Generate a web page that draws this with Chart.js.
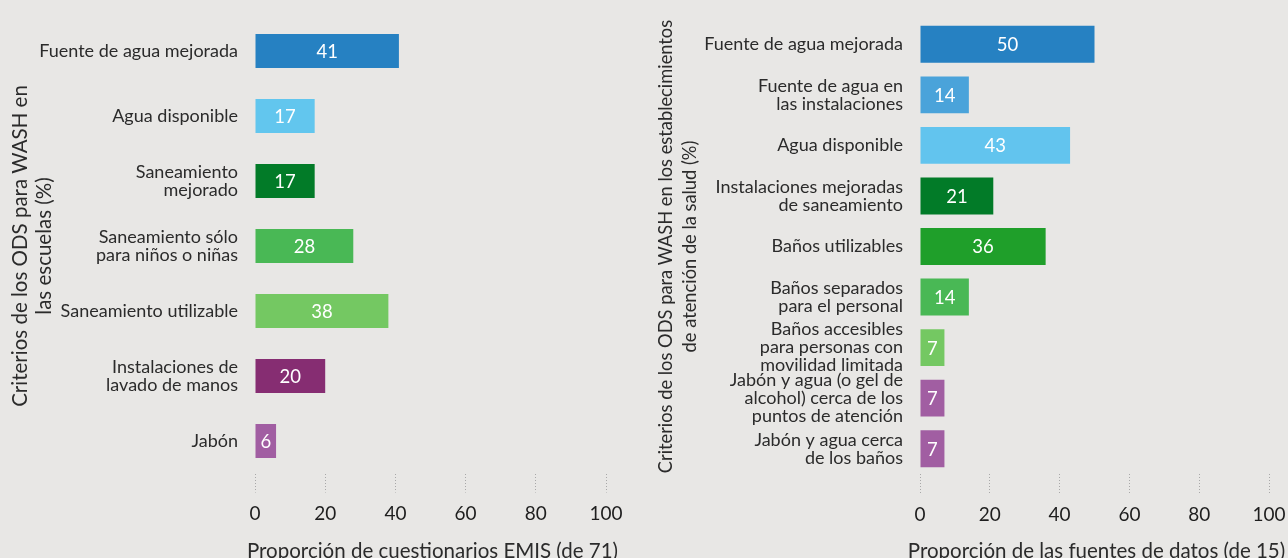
<!DOCTYPE html>
<html lang="es">
<head>
<meta charset="UTF-8">
<title>Criterios de los ODS para WASH</title>
<script src="https://cdn.jsdelivr.net/npm/chart.js"></script>
<style>
  html, body { margin: 0; padding: 0; background: #e8e7e5; overflow: hidden; }
  .panel { position: absolute; top: 0; }
  #leftPanel { left: 0; width: 640px; height: 570px; }
  #rightPanel { left: 640px; width: 648px; height: 570px; }
</style>
</head>
<body>
<div class="panel" id="leftPanel"><canvas id="schoolsChart" width="640" height="570"></canvas></div>
<div class="panel" id="rightPanel"><canvas id="healthChart" width="648" height="570"></canvas></div>
<script>
// Escuelas (cuestionarios EMIS, n = 71)
const schoolCategories = [
  ['Fuente de agua mejorada'],
  ['Agua disponible'],
  ['Saneamiento', 'mejorado'],
  ['Saneamiento sólo', 'para niños o niñas'],
  ['Saneamiento utilizable'],
  ['Instalaciones de', 'lavado de manos'],
  ['Jabón']
];
const schoolValues = [41, 17, 17, 28, 38, 20, 6];

// Establecimientos de salud (fuentes de datos, n = 15)
const healthCategories = [
  ['Fuente de agua mejorada'],
  ['Fuente de agua en', 'las instalaciones'],
  ['Agua disponible'],
  ['Instalaciones mejoradas', 'de saneamiento'],
  ['Baños utilizables'],
  ['Baños separados', 'para el personal'],
  ['Baños accesibles', 'para personas con', 'movilidad limitada'],
  ['Jabón y agua (o gel de', 'alcohol) cerca de los', 'puntos de atención'],
  ['Jabón y agua cerca', 'de los baños']
];
const healthValues = [50, 14, 43, 21, 36, 14, 7, 7, 7];

const xTicks = [0, 20, 40, 60, 80, 100];

// colours
const schoolColors = ['#2681c2', '#62c6ee', '#027b28', '#49b855', '#74c862', '#862d72', '#a15ea2'];
const healthColors = ['#2681c2', '#4aa3da', '#62c4ee', '#027b28', '#1f9f2a', '#49b855', '#74c862', '#a15ea2', '#a15ea2'];

const FONT = 'Lato, "Noto Sans", sans-serif';
const TEXT = '#2b2b2b';

// white numbers in the middle of each bar
const valueLabels = {
  id: 'valueLabels',
  afterDatasetsDraw(chart) {
    const ctx = chart.ctx;
    const meta = chart.getDatasetMeta(0);
    const data = chart.data.datasets[0].data;
    ctx.save();
    ctx.font = '18.5px ' + FONT;
    ctx.fillStyle = '#ffffff';
    ctx.textAlign = 'center';
    ctx.textBaseline = 'middle';
    meta.data.forEach((bar, i) => {
      ctx.fillText(String(data[i]), (bar.base + bar.x) / 2, bar.y + 1);
    });
    ctx.restore();
  }
};

// x axis title, drawn by hand so it is not squeezed to the axis width
const xAxisTitle = {
  id: 'xAxisTitle',
  afterDraw(chart, args, opts) {
    const x = chart.scales.x;
    const ctx = chart.ctx;
    ctx.save();
    ctx.font = '20.5px ' + FONT;
    ctx.fillStyle = TEXT;
    ctx.textAlign = 'center';
    ctx.textBaseline = 'middle';
    ctx.fillText(opts.text, (x.left + x.right) / 2 + 2, x.bottom - 19);
    ctx.restore();
  }
};

function makeChart(id, cfg) {
  return new Chart(document.getElementById(id), {
    type: 'bar',
    data: {
      labels: cfg.labels,
      datasets: [{
        data: cfg.values,
        backgroundColor: cfg.colors,
        borderWidth: 0,
        barPercentage: cfg.barPct,
        categoryPercentage: 1
      }]
    },
    plugins: [valueLabels, xAxisTitle],
    options: {
      indexAxis: 'y',
      responsive: false,
      animation: false,
      events: [],
      layout: { padding: { top: cfg.top, right: cfg.right, left: 0, bottom: 0 } },
      plugins: {
        legend: { display: false },
        tooltip: { enabled: false },
        xAxisTitle: { text: cfg.xTitle }
      },
      scales: {
        x: {
          min: 0,
          max: 100,
          afterBuildTicks: s => { s.ticks = xTicks.map(v => ({ value: v })); },
          afterFit: s => { s.height = 570 - cfg.bottom; s.paddingLeft = 0; s.paddingRight = 0; },
          border: { display: false },
          grid: {
            drawOnChartArea: false,
            drawTicks: true,
            tickLength: 19,
            tickColor: '#a8a8a8',
            tickWidth: 1,
            tickBorderDash: [1, 2]
          },
          ticks: { color: '#1e1e1e', font: { family: FONT, size: 19 }, padding: 10 },
          title: { display: false }
        },
        y: {
          afterFit: s => { s.width = cfg.axisWidth; s.paddingTop = 0; s.paddingBottom = 0; },
          border: { display: false },
          grid: { display: false, drawTicks: false },
          ticks: {
            autoSkip: false,
            color: TEXT,
            font: { family: FONT, size: 18, lineHeight: 1 },
            padding: 17
          },
          title: {
            display: true,
            text: cfg.yTitle,
            color: TEXT,
            font: { family: FONT, size: cfg.yTitleSize, lineHeight: 24 / cfg.yTitleSize },
            padding: { top: cfg.yTitlePad, bottom: 0 }
          }
        }
      }
    }
  });
}

makeChart('schoolsChart', {
  labels: schoolCategories,
  values: schoolValues,
  colors: schoolColors,
  barPct: 0.52,
  top: 18.5,
  bottom: 473.5,
  right: 34,
  axisWidth: 255,
  xTitle: 'Proporción de cuestionarios EMIS (de 71)',
  yTitle: ['Criterios de los ODS para WASH en', 'las escuelas (%)'],
  yTitleSize: 20.5,
  yTitlePad: 8
});

makeChart('healthChart', {
  labels: healthCategories,
  values: healthValues,
  colors: healthColors,
  barPct: 0.73,
  top: 19,
  bottom: 474,
  right: 19,
  axisWidth: 280,
  xTitle: 'Proporción de las fuentes de datos (de 15)',
  yTitle: ['Criterios de los ODS para WASH en los establecimientos', 'de atención de la salud (%)'],
  yTitleSize: 18.3,
  yTitlePad: 14
});
</script>
</body>
</html>
